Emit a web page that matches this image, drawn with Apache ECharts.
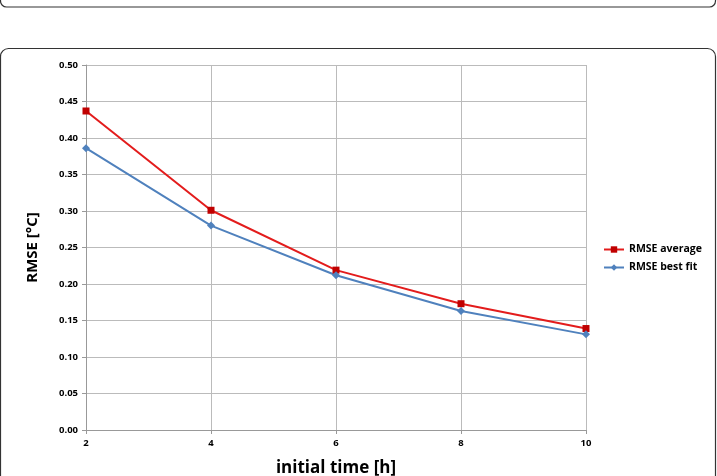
<!DOCTYPE html>
<html>
<head>
<meta charset="utf-8">
<script src="https://cdn.jsdelivr.net/npm/echarts@6/dist/echarts.min.js"></script>
<style>
html, body {margin: 0; padding: 0; background: #fff;}
#figure0 {width: 717px; height: 476px;}
</style>
</head>
<body>
<div id="figure0"></div>
<script>
var initialTime = [2, 4, 6, 8, 10];
var rmseAverage = [0.437, 0.301, 0.219, 0.173, 0.139];
var rmseBestFit = [0.386, 0.280, 0.212, 0.163, 0.131];

function pairs(xs, ys) {
    var out = [];
    for (var i = 0; i < xs.length; i++) { out.push([xs[i], ys[i]]); }
    return out;
}

var figure0 = echarts.init(document.getElementById('figure0'));
var font = 'Open Sans';
var option = {
    animation: false,
    backgroundColor: '#fff',
    graphic: [{
        type: 'rect',
        shape: {x: 0.5, y: -20, width: 715, height: 27, r: 6},
        style: {fill: 'none', stroke: '#333', lineWidth: 1.2}
    }, {
        type: 'rect',
        shape: {x: 0.5, y: 48.5, width: 715, height: 460, r: 8},
        style: {fill: 'none', stroke: '#333', lineWidth: 1.2}
    }],
    grid: {left: 86, right: 131, top: 65, bottom: 46, outerBoundsMode: 'none'},
    legend: {
        orient: 'vertical',
        left: 603,
        top: 244,
        padding: 0,
        itemWidth: 20,
        itemHeight: 8,
        itemGap: 7,
        textStyle: {fontFamily: font, fontWeight: 'bold', fontSize: 10.5, color: '#000'},
        data: ['RMSE average', 'RMSE best fit']
    },
    xAxis: {
        type: 'value',
        min: 2,
        max: 10,
        interval: 2,
        name: 'initial time [h]',
        nameLocation: 'middle',
        nameGap: 30,
        nameTextStyle: {fontFamily: font, fontWeight: 'bold', fontSize: 17, color: '#000'},
        axisLine: {lineStyle: {color: '#999'}},
        axisTick: {show: true, length: 4, lineStyle: {color: '#999'}},
        axisLabel: {fontFamily: font, fontWeight: 'bold', fontSize: 9.5, color: '#000', margin: 8},
        splitLine: {show: true, lineStyle: {color: '#bbb'}}
    },
    yAxis: {
        type: 'value',
        min: 0,
        max: 0.5,
        interval: 0.05,
        name: 'RMSE [°C]',
        nameLocation: 'middle',
        nameGap: 46,
        nameTextStyle: {fontFamily: font, fontWeight: 'bold', fontSize: 15, color: '#000'},
        axisLine: {show: true, lineStyle: {color: '#999'}},
        axisTick: {show: true, length: 4, lineStyle: {color: '#999'}},
        axisLabel: {
            fontFamily: font, fontWeight: 'bold', fontSize: 9.5, color: '#000', margin: 8,
            formatter: function (v) { return v.toFixed(2); }
        },
        splitLine: {show: true, lineStyle: {color: '#bbb'}}
    },
    series: [{
        name: 'RMSE average',
        type: 'line',
        data: pairs(initialTime, rmseAverage),
        symbol: 'rect',
        symbolSize: 7,
        lineStyle: {color: '#e31c1c', width: 2},
        itemStyle: {color: '#c00000', borderWidth: 0}
    }, {
        name: 'RMSE best fit',
        type: 'line',
        data: pairs(initialTime, rmseBestFit),
        symbol: 'diamond',
        symbolSize: 8,
        lineStyle: {color: '#4f81bd', width: 2},
        itemStyle: {color: '#4f81bd', borderWidth: 0}
    }]
};
figure0.setOption(option);
</script>
</body>
</html>
